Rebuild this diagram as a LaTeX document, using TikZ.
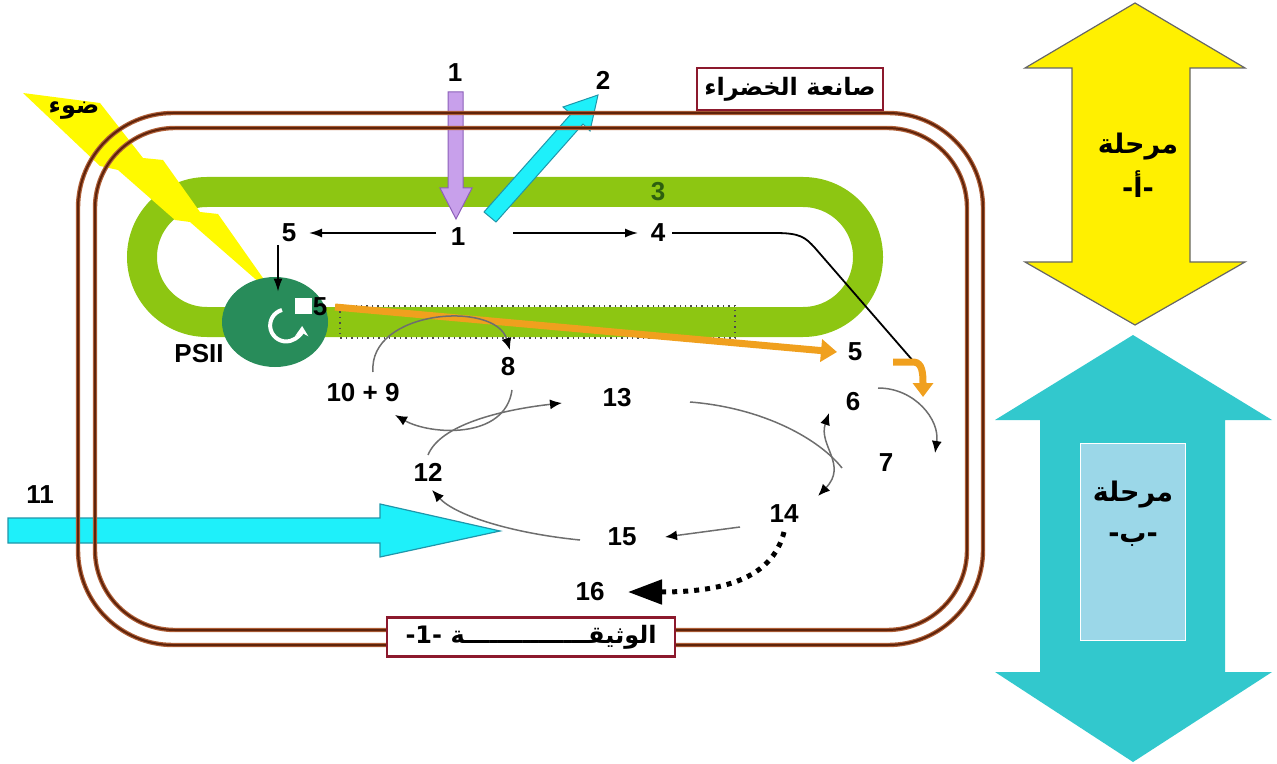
\documentclass[tikz,border=0pt]{standalone}
\usepackage{fontspec}
\setmainfont{Liberation Sans}
\newfontfamily\arabicfont[Script=Arabic]{DejaVu Sans}
\TeXXeTstate=1
\usetikzlibrary{arrows.meta,calc,shapes.geometric}

\definecolor{envdark}{RGB}{95,35,10}
\definecolor{envlight}{RGB}{175,95,55}
\definecolor{thyl}{RGB}{141,198,18}
\definecolor{psgreen}{RGB}{40,140,90}
\definecolor{bolt}{RGB}{255,250,0}
\definecolor{lav}{RGB}{200,160,235}
\definecolor{lavline}{RGB}{140,95,185}
\definecolor{aqua}{RGB}{30,240,250}
\definecolor{aqualine}{RGB}{30,150,170}
\definecolor{orng}{RGB}{240,160,30}
\definecolor{cycgray}{RGB}{110,110,110}
\definecolor{boxred}{RGB}{140,25,45}
\definecolor{stagea}{RGB}{255,240,0}
\definecolor{stageb}{RGB}{50,200,205}
\definecolor{stagebin}{RGB}{155,215,232}
\definecolor{band}{RGB}{45,95,15}

\begin{document}
\begin{tikzpicture}[x=0.5pt,y=-0.5pt,
  num/.style={font=\bfseries\fontsize{13}{15}\selectfont, inner sep=1pt},
  ar/.style={font=\arabicfont\bfseries\fontsize{12}{14}\selectfont, inner sep=1pt},
  stagetext/.style={font=\arabicfont\bfseries\fontsize{13.5}{16}\selectfont, inner sep=1pt},
  smalltip/.tip={Latex[black,length=6pt,width=5pt]},
  cyc/.style={draw=cycgray, line width=0.75pt, -smalltip},
  blk/.style={line width=0.8pt, -{Latex[length=6.5pt,width=4.5pt]}},
  orarrow/.style={orng, line width=3.5pt, -{Triangle[length=8pt,width=11pt]}}]
  \useasboundingbox (0,0) rectangle (1277,764);

  % thylakoid ring
  \draw[line width=15pt, thyl, rounded corners=32.5pt] (142,192) rectangle (868,322);
  \draw[dotted, line width=0.7pt, black!70] (340,306) rectangle (735,338);

  % light
  \fill[bolt] (23,93) -- (100,103) -- (143,158) -- (163,160) -- (200,212) -- (218,214)
    -- (277,298) -- (190,222) -- (175,220) -- (118,170) -- (100,166) -- cycle;

  % gas exchange arrows
  \filldraw[fill=lav, draw=lavline, line width=0.5pt] (448,92) -- (463,92) -- (463,188)
    -- (472,188) -- (456,219) -- (440,188) -- (448,188) -- cycle;
  \filldraw[fill=aqua, draw=aqualine, line width=0.5pt] (496,222) -- (583,124) -- (590,131)
    -- (598,95) -- (563,107) -- (571,114) -- (484,212) -- cycle;
  \filldraw[fill=aqua, draw=aqualine, line width=0.6pt] (8,518) -- (380,518) -- (380,504)
    -- (500,531) -- (380,557) -- (380,543) -- (8,543) -- cycle;

  % envelope
  \foreach \a/\b/\c/\d/\r in {78/113/983/645/47.5pt, 95/128/967/630/40pt} {
    \draw[line width=2.2pt, envlight, rounded corners=\r] (\a,\b) rectangle (\c,\d);
    \draw[line width=1pt, envdark, rounded corners=\r] (\a,\b) rectangle (\c,\d);
  }

  % photosystem
  \node[ellipse, fill=psgreen, minimum width=53pt, minimum height=45pt, inner sep=0] (ps) at (275,322) {};
  \fill[white] (295,298) rectangle (312,314);
  \draw[white, line width=2pt, -{Stealth[length=5pt,width=6.5pt]}] (282,310) arc[start angle=105, end angle=358, radius=8pt];

  % labels
  \node[ar, draw=boxred, line width=1.2pt, fill=white, minimum width=93pt, minimum height=21pt] (cl) at (790,89) {\beginR صانعة الخضراء\endR};
  \node[ar, draw=boxred, line width=1.2pt, fill=white, minimum width=144pt, minimum height=19.5pt] (doc) at (531,637) {\beginR الوثيقـــــــــــــــة \beginL-1-\endL\endR};
  \node[ar] (lt) at (74,111) {\beginR ضوء\endR};

  \node[num] (t1) at (455,73) {1};
  \node[num] (t2) at (603,80) {2};
  \node[num, text=band] (t3) at (658,192) {3};
  \node[num] (n1) at (458,237) {1};
  \node[num] (n5a) at (289,233) {5};
  \node[num] (n4) at (658,233) {4};
  \node[num] (n5b) at (320,307) {5};
  \node[num] (n5c) at (855,352) {5};
  \node[num] (n6) at (853,402) {6};
  \node[num] (n7) at (886,463) {7};
  \node[num] (n8) at (508,367) {8};
  \node[num] (n109) at (363,393) {10 + 9};
  \node[num] (n13) at (617,398) {13};
  \node[num] (n12) at (428,472) {12};
  \node[num] (n14) at (784,514) {14};
  \node[num] (n15) at (622,537) {15};
  \node[num] (n16) at (590,592) {16};
  \node[num] (n11) at (40,495) {11};
  \node[num] (psl) at (199,354) {PSII};

  % light reactions
  \coordinate (jn) at (914,362);
  \draw[blk] ($(n1)+(-22,-4)$) -- ($(n5a)+(20,0)$);
  \draw[blk] ($(n1)+(55,-4)$) -- ($(n4)+(-20,0)$);
  \draw[blk] ($(n5a)+(-11,12)$) -- ($(ps.north)+(3,15)$);
  \draw[line width=0.9pt] ($(n4)+(14,0)$) -- (775,233) .. controls (800,233) and (805,237) .. (815,248) -- (jn);
  \draw[orarrow] ($(n5b)+(15,0)$) -- ($(n5c)+(-18,0)$);
  \draw[orarrow, -{Triangle[length=7pt,width=10pt]}] ($(n5c)+(38,10)$) -- (jn) .. controls (922,363) and (923,372) .. (923,397);

  % cycle
  \draw[cyc] ($(n109)+(10,-21)$) .. controls (368,310) and (495,300) .. ($(n8)+(2,-17)$);
  \draw[cyc] ($(n8)+(4,23)$) .. controls (505,440) and (430,435) .. ($(n109)+(32,22)$);
  \draw[cyc] ($(n12)+(0,-17)$) .. controls (440,425) and (500,410) .. ($(n13)+(-55,5)$);
  \draw[cyc, -] ($(n13)+(73,4)$) .. controls (765,408) and (820,440) .. ($(n14)+(58,-46)$);
  \draw[cyc, smalltip-smalltip] ($(n6)+(-24,11)$) .. controls (818,445) and (848,465) .. ($(n14)+(34,-18)$);
  \draw[cyc] ($(n6)+(25,-14)$) .. controls (915,388) and (940,420) .. ($(n7)+(49,-10)$);
  \draw[cyc] ($(n14)+(-44,13)$) -- ($(n15)+(43,0)$);
  \draw[cyc] ($(n15)+(-42,3)$) .. controls (510,533) and (455,515) .. ($(n12)+(4,18)$);
  \draw[line width=2.5pt, dash pattern=on 2.5pt off 3pt, -{Triangle[length=17pt,width=12pt]}]
    ($(n14)+(0,18)$) .. controls (772,580) and (720,592) .. ($(n16)+(38,0)$);

  % stages
  \filldraw[fill=stagea, draw=black!60, line width=0.6pt] (1135,3) -- (1245,68) -- (1190,68) -- (1190,262)
    -- (1245,262) -- (1135,325) -- (1025,262) -- (1072,262) -- (1072,68) -- (1025,68) -- cycle;
  \fill[stageb] (1133,335) -- (1272,420) -- (1225,420) -- (1225,672) -- (1272,672) -- (1133,762)
    -- (995,672) -- (1040,672) -- (1040,420) -- (995,420) -- cycle;
  \filldraw[fill=stagebin, draw=white, line width=0.5pt] (1080,443) rectangle (1185,640);
  \node[stagetext] (sa) at (1138,147) {\beginR مرحلة\endR};
  \node[stagetext] (sa2) at (1138,184) {\beginR -أ-\endR};
  \node[stagetext] (sb) at (1133,495) {\beginR مرحلة\endR};
  \node[stagetext] (sb2) at (1133,540) {\beginR -ب-\endR};
\end{tikzpicture}
\end{document}
